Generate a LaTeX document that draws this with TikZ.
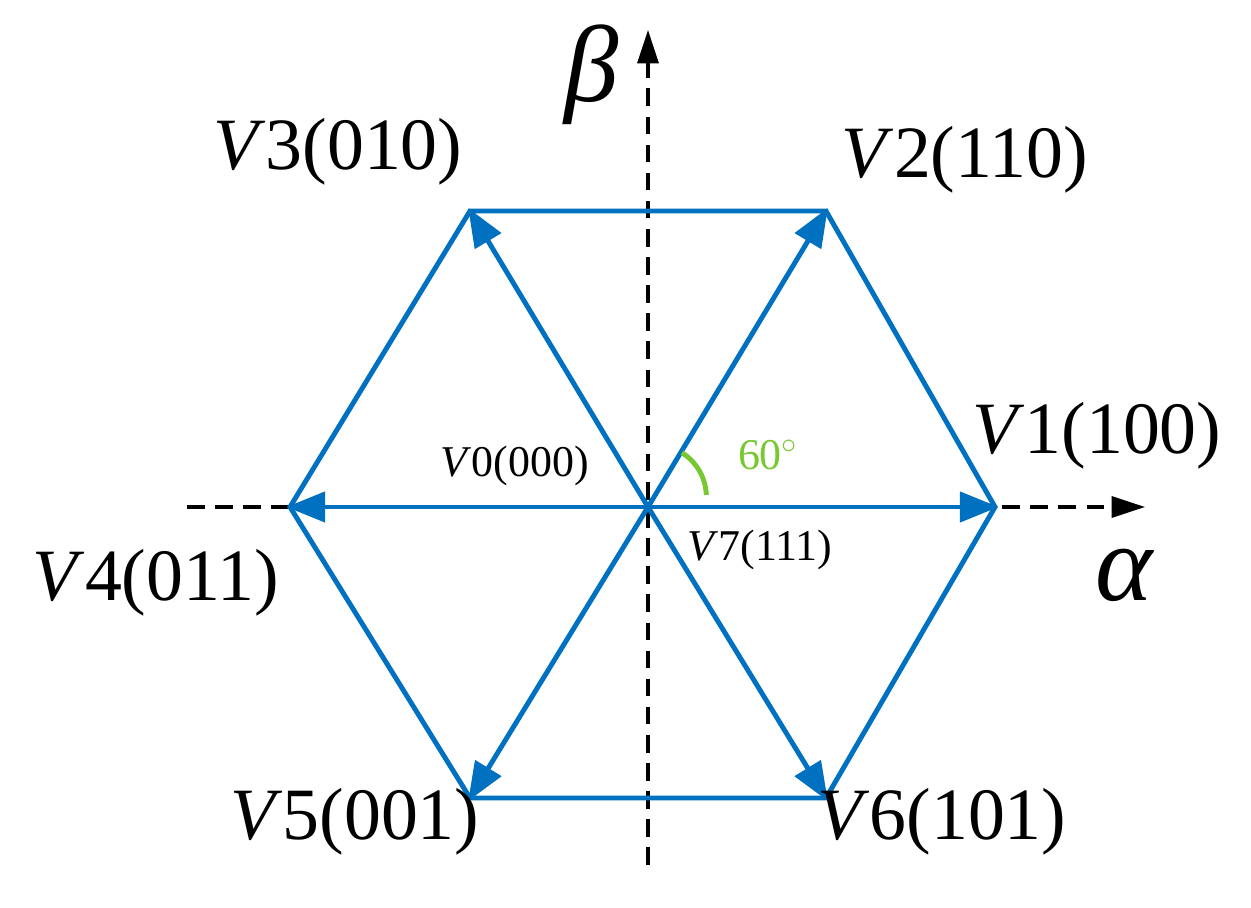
\documentclass[tikz,border=0pt]{standalone}
\usepackage{fontspec}
\setmainfont{Liberation Serif}
\usetikzlibrary{arrows.meta}
\definecolor{vblue}{RGB}{0,112,192}
\definecolor{vgreen}{RGB}{120,200,50}
\begin{document}
\begin{tikzpicture}[x=0.02cm,y=-0.02cm,
  hexline/.style={vblue,line width=2.8pt},
  vec/.style={hexline,-{Triangle[length=22pt,width=17pt]},shorten >=-2pt},
  axis/.style={black,line width=1.8pt,dash pattern=on 10pt off 6pt,-{Triangle[length=19pt,width=12pt]}},
  big/.style={font=\fontsize{42}{44}\selectfont,inner sep=0pt},
  small/.style={font=\fontsize{25}{27}\selectfont,inner sep=0pt}]
\useasboundingbox (0,0) rectangle (1251,908);
\coordinate (O) at (648,507);
\coordinate (A1) at (995,507);
\coordinate (A2) at (826,211);
\coordinate (A3) at (470,211);
\coordinate (A4) at (290,507);
\coordinate (A5) at (470,798);
\coordinate (A6) at (826,798);
\coordinate (xs) at (187,507);
\coordinate (xe) at (1145,507);
\coordinate (ys) at (648,865);
\coordinate (ye) at (648,30);
\draw[axis] (xs) -- (xe);
\draw[axis] (ys) -- (ye);
\draw[hexline,line join=miter] (A1)--(A2)--(A3)--(A4)--(A5)--(A6)--cycle;
\foreach \i in {1,...,6} \draw[vec] (O) -- (A\i);
\draw[vgreen,line width=2.8pt] ([shift={(-58:64)}]O) arc[start angle=-58,end angle=-2,radius=52];
\node[big] (l3) at (338,152) {\textit{V}3(010)};
\node[big] (l2) at (965,160) {\textit{V}2(110)};
\node[big] (l1) at (1097,436) {\textit{V}1(100)};
\node[big] (l4) at (156,583) {\textit{V}4(011)};
\node[big] (l5) at (355,822) {\textit{V}5(001)};
\node[big] (l6) at (942,822) {\textit{V}6(101)};
\node[small] (l0) at (515,466) {\textit{V}0(000)};
\node[small] (l7) at (760,550) {\textit{V}7(111)};
\node[small,text=vgreen] (deg) at (768,455) {60$^\circ$};
\node[inner sep=0pt,font=\fontsize{62}{64}\selectfont] (beta) at (592,75) {\textit{β}};
\node[inner sep=0pt,font=\fontsize{62}{64}\selectfont] (alpha) at (1125,575) {\textit{α}};
\end{tikzpicture}
\end{document}
